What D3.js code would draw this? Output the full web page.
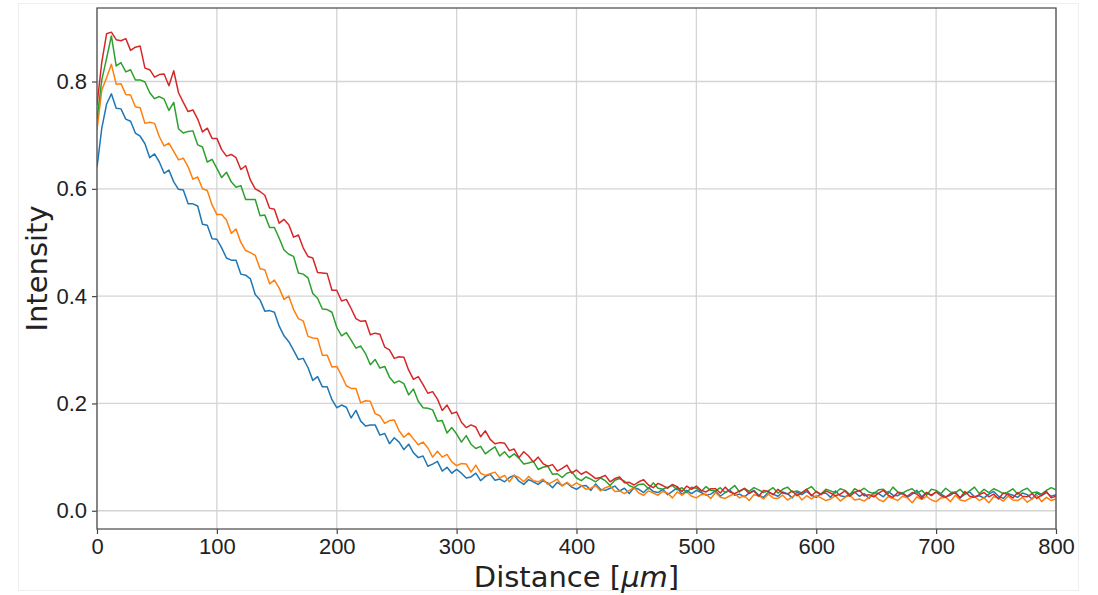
<!DOCTYPE html>
<html lang="en">
<head>
<meta charset="utf-8">
<script src="https://d3js.org/d3.v7.min.js"></script>
<style>
  body { margin:0; background:#fff; }
  svg { display:block; font-family:"DejaVu Sans", sans-serif; }
  .tick text { font-size:22px; fill:#222; }
  .grid line { stroke:#d4d4d4; stroke-width:1.3; }
</style>
<title>Intensity vs distance</title>
</head>
<body>
<script>

// distance samples every 4 um, 0..800 (one row = 40 um)
let step = 4;

let blue = [
  0.640,0.713,0.758,0.777,0.750,0.749,0.730,0.726,0.704,0.698,
  0.684,0.658,0.665,0.650,0.629,0.635,0.613,0.599,0.598,0.572,
  0.572,0.568,0.534,0.532,0.507,0.506,0.490,0.471,0.467,0.467,
  0.441,0.439,0.432,0.403,0.393,0.372,0.373,0.370,0.344,0.326,
  0.315,0.299,0.282,0.284,0.267,0.243,0.250,0.231,0.231,0.207,
  0.192,0.197,0.193,0.173,0.187,0.167,0.158,0.160,0.160,0.141,
  0.144,0.125,0.136,0.128,0.114,0.124,0.108,0.099,0.102,0.083,
  0.087,0.092,0.074,0.081,0.070,0.077,0.070,0.061,0.063,0.070,
  0.056,0.064,0.068,0.057,0.059,0.054,0.062,0.066,0.055,0.049,
  0.058,0.054,0.049,0.056,0.052,0.043,0.053,0.047,0.052,0.044,
  0.040,0.046,0.047,0.038,0.050,0.040,0.038,0.042,0.046,0.037,
  0.042,0.032,0.043,0.040,0.034,0.043,0.036,0.034,0.040,0.030,
  0.036,0.043,0.030,0.038,0.032,0.038,0.034,0.029,0.031,0.037,
  0.027,0.034,0.038,0.029,0.031,0.026,0.033,0.038,0.029,0.025,
  0.034,0.031,0.027,0.035,0.032,0.024,0.035,0.030,0.036,0.029,
  0.025,0.032,0.033,0.025,0.037,0.028,0.026,0.031,0.035,0.027,
  0.032,0.023,0.034,0.032,0.026,0.036,0.029,0.028,0.034,0.025,
  0.031,0.038,0.026,0.034,0.028,0.035,0.031,0.026,0.029,0.035,
  0.024,0.031,0.035,0.026,0.028,0.024,0.031,0.036,0.027,0.023,
  0.032,0.029,0.025,0.033,0.030,0.022,0.033,0.028,0.034,0.027,
  0.030
];

let orange = [
  0.710,0.784,0.807,0.832,0.795,0.796,0.776,0.775,0.753,0.751,
  0.722,0.724,0.722,0.697,0.680,0.685,0.670,0.654,0.657,0.641,
  0.618,0.622,0.600,0.597,0.570,0.552,0.552,0.542,0.517,0.525,
  0.500,0.485,0.481,0.476,0.451,0.449,0.423,0.430,0.415,0.394,
  0.400,0.375,0.358,0.354,0.325,0.322,0.321,0.290,0.290,0.268,
  0.269,0.252,0.233,0.228,0.228,0.201,0.205,0.204,0.181,0.177,
  0.163,0.168,0.169,0.149,0.137,0.145,0.134,0.123,0.128,0.117,
  0.100,0.111,0.100,0.105,0.091,0.084,0.088,0.087,0.072,0.085,
  0.070,0.066,0.069,0.072,0.061,0.066,0.054,0.066,0.062,0.054,
  0.064,0.056,0.054,0.059,0.049,0.054,0.059,0.046,0.053,0.046,
  0.052,0.047,0.040,0.042,0.047,0.037,0.043,0.046,0.036,0.037,
  0.032,0.038,0.043,0.033,0.029,0.037,0.033,0.029,0.036,0.033,
  0.024,0.035,0.029,0.035,0.027,0.024,0.030,0.031,0.023,0.034,
  0.025,0.023,0.028,0.032,0.024,0.028,0.019,0.030,0.028,0.022,
  0.031,0.024,0.023,0.029,0.020,0.026,0.032,0.020,0.028,0.022,
  0.028,0.024,0.019,0.022,0.028,0.018,0.025,0.029,0.020,0.022,
  0.018,0.025,0.030,0.021,0.017,0.026,0.023,0.019,0.027,0.024,
  0.015,0.026,0.021,0.027,0.020,0.017,0.024,0.025,0.017,0.029,
  0.020,0.018,0.023,0.027,0.019,0.024,0.015,0.026,0.024,0.018,
  0.027,0.020,0.019,0.025,0.016,0.022,0.029,0.017,0.025,0.019,
  0.022
];

let green = [
  0.730,0.803,0.843,0.885,0.829,0.835,0.818,0.822,0.803,0.803,
  0.799,0.779,0.768,0.772,0.767,0.746,0.761,0.712,0.704,0.707,
  0.708,0.682,0.678,0.650,0.655,0.638,0.621,0.631,0.613,0.603,
  0.606,0.580,0.580,0.580,0.550,0.551,0.528,0.528,0.508,0.486,
  0.478,0.474,0.443,0.441,0.434,0.405,0.396,0.376,0.375,0.370,
  0.342,0.326,0.332,0.318,0.303,0.307,0.293,0.272,0.282,0.266,
  0.269,0.249,0.238,0.242,0.237,0.216,0.227,0.204,0.192,0.191,
  0.188,0.167,0.168,0.145,0.155,0.143,0.128,0.140,0.124,0.116,
  0.120,0.106,0.113,0.119,0.102,0.110,0.099,0.106,0.098,0.087,
  0.089,0.092,0.077,0.081,0.083,0.068,0.069,0.062,0.070,0.073,
  0.061,0.056,0.063,0.059,0.054,0.061,0.056,0.047,0.057,0.060,
  0.055,0.047,0.043,0.049,0.050,0.041,0.052,0.042,0.040,0.044,
  0.047,0.039,0.043,0.034,0.044,0.042,0.036,0.045,0.038,0.037,
  0.043,0.034,0.040,0.047,0.035,0.042,0.036,0.043,0.039,0.034,
  0.037,0.043,0.033,0.040,0.044,0.035,0.037,0.033,0.040,0.045,
  0.035,0.031,0.040,0.037,0.033,0.041,0.038,0.030,0.041,0.036,
  0.042,0.035,0.032,0.039,0.040,0.032,0.044,0.035,0.033,0.038,
  0.041,0.033,0.038,0.029,0.040,0.038,0.032,0.042,0.035,0.034,
  0.040,0.031,0.037,0.044,0.032,0.040,0.034,0.041,0.037,0.032,
  0.035,0.041,0.031,0.038,0.042,0.033,0.035,0.031,0.038,0.043,
  0.039
];

let red = [
  0.756,0.836,0.889,0.892,0.878,0.876,0.880,0.858,0.864,0.866,
  0.825,0.822,0.808,0.813,0.814,0.792,0.820,0.779,0.761,0.744,
  0.747,0.730,0.706,0.713,0.694,0.694,0.673,0.661,0.664,0.658,
  0.636,0.643,0.616,0.600,0.595,0.588,0.564,0.562,0.536,0.543,
  0.533,0.510,0.514,0.490,0.474,0.471,0.444,0.443,0.442,0.411,
  0.411,0.391,0.394,0.377,0.358,0.353,0.354,0.328,0.331,0.329,
  0.305,0.300,0.284,0.287,0.286,0.262,0.245,0.250,0.235,0.219,
  0.222,0.208,0.187,0.197,0.181,0.184,0.165,0.155,0.160,0.156,
  0.138,0.149,0.133,0.125,0.127,0.126,0.112,0.115,0.099,0.110,
  0.102,0.091,0.100,0.088,0.083,0.086,0.074,0.079,0.085,0.070,
  0.076,0.068,0.073,0.067,0.060,0.062,0.066,0.054,0.060,0.063,
  0.052,0.053,0.048,0.054,0.058,0.048,0.043,0.051,0.047,0.042,
  0.049,0.045,0.036,0.046,0.040,0.046,0.038,0.035,0.041,0.041,
  0.033,0.044,0.035,0.032,0.037,0.041,0.032,0.037,0.027,0.038,
  0.036,0.030,0.040,0.033,0.031,0.037,0.028,0.034,0.040,0.028,
  0.036,0.030,0.037,0.033,0.028,0.031,0.037,0.027,0.034,0.038,
  0.028,0.030,0.026,0.033,0.038,0.029,0.025,0.034,0.031,0.027,
  0.034,0.031,0.023,0.034,0.029,0.035,0.028,0.025,0.032,0.033,
  0.024,0.036,0.027,0.025,0.030,0.034,0.026,0.031,0.022,0.033,
  0.030,0.024,0.034,0.027,0.026,0.032,0.023,0.029,0.036,0.024,
  0.027
];

let seriesList = [blue, orange, green, red];
let colors = ["#1f77b4", "#ff7f0e", "#2ca02c", "#d62728"];
let xTicks = [0, 100, 200, 300, 400, 500, 600, 700, 800];
let yTicks = [0.0, 0.2, 0.4, 0.6, 0.8];

let width = 1098, height = 595;
let margin = {top: 8, right: 42, bottom: 66, left: 97};

let svg = d3.select("body").append("svg")
  .attr("width", width)
  .attr("height", height);

// faint frame of the screenshot
svg.append("rect")
  .attr("x", 18.5).attr("y", 3.5)
  .attr("width", 1060).attr("height", 587)
  .attr("fill", "none")
  .attr("stroke", "#efefef");

let x = d3.scaleLinear().domain([0, 800]).range([margin.left, width - margin.right]);
let y = d3.scaleLinear().domain([-0.034, 0.937]).range([height - margin.bottom, margin.top]);

// grid
svg.append("g").attr("class", "grid")
  .selectAll("line").data(xTicks).enter().append("line")
  .attr("x1", d => x(d)).attr("x2", d => x(d))
  .attr("y1", y.range()[0]).attr("y2", y.range()[1]);
svg.append("g").attr("class", "grid")
  .selectAll("line").data(yTicks).enter().append("line")
  .attr("x1", x.range()[0]).attr("x2", x.range()[1])
  .attr("y1", d => y(d)).attr("y2", d => y(d));

svg.append("clipPath").attr("id", "clip")
  .append("rect")
  .attr("x", margin.left).attr("y", margin.top)
  .attr("width", width - margin.left - margin.right)
  .attr("height", height - margin.top - margin.bottom);

// lines
let line = d3.line()
  .x((d, i) => x(i * step))
  .y(d => y(d));

svg.append("g")
  .attr("clip-path", "url(#clip)")
  .selectAll("path").data(seriesList).enter().append("path")
  .attr("fill", "none")
  .attr("stroke", (d, i) => colors[i])
  .attr("stroke-width", 1.5)
  .attr("stroke-linejoin", "round")
  .attr("d", line);

// axes
let xAxis = d3.axisBottom(x).tickValues(xTicks).tickSize(5).tickPadding(4).tickFormat(d3.format("d"));
let yAxis = d3.axisLeft(y).tickValues(yTicks).tickSize(5).tickPadding(5).tickFormat(d3.format(".1f"));

let gx = svg.append("g")
  .attr("transform", "translate(0," + (height - margin.bottom) + ")")
  .call(xAxis);
let gy = svg.append("g")
  .attr("transform", "translate(" + margin.left + ",0)")
  .call(yAxis);
[gx, gy].forEach(g => {
  g.select(".domain").remove();
  g.selectAll(".tick line").attr("stroke", "#444").attr("stroke-width", 1.2);
});

// frame
svg.append("rect")
  .attr("x", margin.left).attr("y", margin.top)
  .attr("width", width - margin.left - margin.right)
  .attr("height", height - margin.top - margin.bottom)
  .attr("fill", "none")
  .attr("stroke", "#555")
  .attr("stroke-width", 1.3);

// labels
svg.append("text")
  .attr("transform", "translate(47," + ((margin.top + height - margin.bottom) / 2) + ") rotate(-90)")
  .attr("text-anchor", "middle")
  .style("font-size", "29px")
  .style("fill", "#222")
  .text("Intensity");

let xl = svg.append("text")
  .attr("x", (margin.left + width - margin.right) / 2)
  .attr("y", 587)
  .attr("text-anchor", "middle")
  .style("font-size", "29px")
  .style("fill", "#222");
xl.append("tspan").text("Distance [");
xl.append("tspan").style("font-style", "italic").text("\u03bcm");
xl.append("tspan").text("]");

</script>
</body>
</html>
